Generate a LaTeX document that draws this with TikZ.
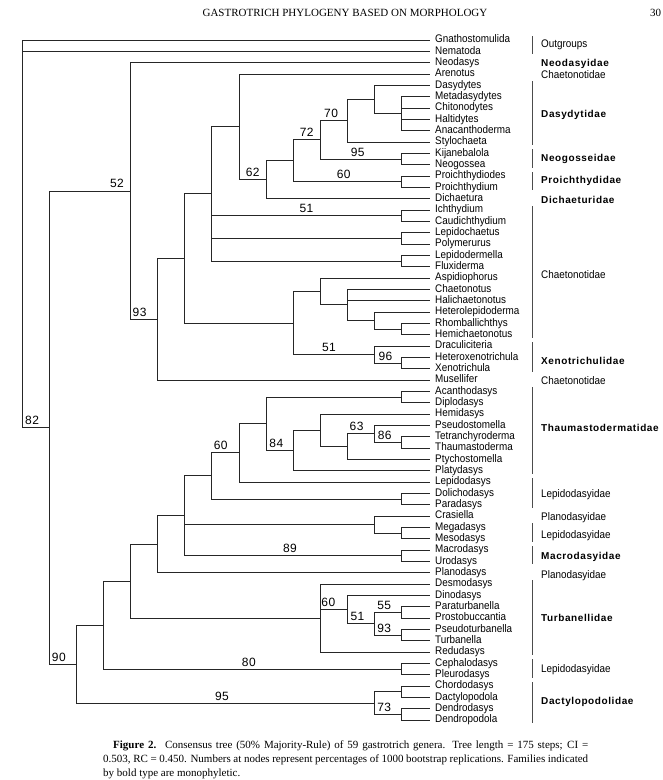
\documentclass[tikz,border=0pt]{standalone}
\usepackage{fontspec}
\setmainfont{Liberation Serif}
\newfontfamily\taxfont[FakeStretch=0.9]{Liberation Sans}
\newfontfamily\famfont[LetterSpace=6]{Liberation Sans}
\newfontfamily\numfont[LetterSpace=4]{Liberation Sans}
\usetikzlibrary{calc}
\newcommand\clade[5]{%
  \coordinate (tmp) at ($(#3)!0.5!(#4)$);
  \coordinate (#1) at (L#2 |- tmp);
  \foreach \c in {#5} {\draw[branch] (#1) |- (\c);}%
}
\begin{document}
\begin{tikzpicture}[x=1pt,y=-1pt,
  declare function={ry(\i)=40+(\i-1)*11.3333;},
  branch/.style={line width=0.9pt, draw=black!85},
  bar/.style={line width=1.2pt, draw=black!70},
  taxon/.style={anchor=west, inner xsep=5pt, inner ysep=0pt, text height=7.8pt, text depth=2.3pt, font=\taxfont\fontsize{11}{11}\selectfont},
  famreg/.style={anchor=west, inner sep=0pt, text height=7.8pt, text depth=2.3pt, font=\taxfont\fontsize{11}{11}\selectfont},
  fambold/.style={anchor=west, inner sep=0pt, text height=7.8pt, text depth=2.3pt, font=\famfont\bfseries\fontsize{10}{10}\selectfont},
  supp/.style={anchor=base, inner sep=0pt, font=\numfont\fontsize{12}{12}\selectfont}]
\fill[white] (0,0) rectangle (663,780);
\useasboundingbox (0,0) rectangle (663,780);

% header
\node[font=\fontsize{11}{13}\selectfont] (hdr) at (345,13) {GASTROTRICH PHYLOGENY BASED ON MORPHOLOGY};
\node[font=\fontsize{11}{13}\selectfont, anchor=west, inner sep=0pt] (pg) at (650,13) {30};

% level x positions
\foreach \k in {0,...,14} \coordinate (L\k) at ({22+27.12*\k},0);

% taxa
\foreach \nm/\lab [count=\i] in {Gna/Gnathostomulida, Nem/Nematoda, Neo/Neodasys, Are/Arenotus, Das/Dasydytes, Met/Metadasydytes, Chi/Chitonodytes, Hal/Haltidytes, Ana/Anacanthoderma, Sty/Stylochaeta, Kij/Kijanebalola, Neg/Neogossea, Prd/Proichthydiodes, Pri/Proichthydium, Dic/Dichaetura, Ich/Ichthydium, Cau/Caudichthydium, Lpc/Lepidochaetus, Pol/Polymerurus, Lpd/Lepidodermella, Flu/Fluxiderma, Asp/Aspidiophorus, Cha/Chaetonotus, Hac/Halichaetonotus, Het/Heterolepidoderma, Rho/Rhomballichthys, Hem/Hemichaetonotus, Dra/Draculiciteria, Hxe/Heteroxenotrichula, Xen/Xenotrichula, Mus/Musellifer, Aca/Acanthodasys, Dip/Diplodasys, Hmd/Hemidasys, Pse/Pseudostomella, Tet/Tetranchyroderma, Tha/Thaumastoderma, Pty/Ptychostomella, Pla/Platydasys, Lep/Lepidodasys, Dol/Dolichodasys, Par/Paradasys, Cra/Crasiella, Meg/Megadasys, Mes/Mesodasys, Mac/Macrodasys, Uro/Urodasys, Pln/Planodasys, Des/Desmodasys, Din/Dinodasys, Ptu/Paraturbanella, Pro/Prostobuccantia, Psu/Pseudoturbanella, Tur/Turbanella, Red/Redudasys, Cep/Cephalodasys, Ple/Pleurodasys, Cho/Chordodasys, Dac/Dactylopodola, Den/Dendrodasys, Dnp/Dendropodola}
  \node[taxon] (\nm) at (430,{ry(\i)}) {\lab};

% tree
\clade{nDasA}{14}{Met}{Ana}{Met,Chi,Hal,Ana}
\clade{nDasB}{13}{Das}{nDasA}{Das,nDasA}
\clade{n70}{12}{nDasB}{Sty}{nDasB,Sty}
\clade{nNeog}{14}{Kij}{Neg}{Kij,Neg}
\clade{n72}{11}{n70}{nNeog}{n70,nNeog}
\clade{nProi}{14}{Prd}{Pri}{Prd,Pri}
\clade{nA}{10}{n72}{nProi}{n72,nProi}
\clade{n62}{9}{nA}{Dic}{nA,Dic}
\clade{nB}{8}{Are}{n62}{Are,n62}
\clade{nIch}{14}{Ich}{Cau}{Ich,Cau}
\clade{nLpc}{14}{Lpc}{Pol}{Lpc,Pol}
\clade{nLpd}{14}{Lpd}{Flu}{Lpd,Flu}
\clade{nC}{7}{nB}{nLpd}{nB,nIch,nLpc,nLpd}
\clade{nRho}{14}{Rho}{Hem}{Rho,Hem}
\clade{nHet}{13}{Het}{nRho}{Het,nRho}
\clade{nCha}{12}{Cha}{nHet}{Cha,Hac,nHet}
\clade{nAsp}{11}{Asp}{nCha}{Asp,nCha}
\clade{nXe}{14}{Hxe}{Xen}{Hxe,Xen}
\clade{nDra}{13}{Dra}{nXe}{Dra,nXe}
\clade{nD}{10}{nAsp}{nDra}{nAsp,nDra}
\clade{nE}{6}{nC}{nD}{nC,nD}
\clade{n93}{5}{nE}{Mus}{nE,Mus}
\clade{n52}{4}{Neo}{n93}{Neo,n93}
\clade{nAca}{14}{Aca}{Dip}{Aca,Dip}
\clade{n86}{14}{Tet}{Tha}{Tet,Tha}
\clade{nPse}{13}{Pse}{n86}{Pse,n86}
\clade{n63}{12}{nPse}{Pty}{nPse,Pty}
\clade{nHmd}{11}{Hmd}{n63}{Hmd,n63}
\clade{n84}{10}{nHmd}{Pla}{nHmd,Pla}
\clade{nF}{9}{nAca}{n84}{nAca,n84}
\clade{n60}{8}{nF}{Lep}{nF,Lep}
\clade{nDol}{14}{Dol}{Par}{Dol,Par}
\clade{nG}{7}{n60}{nDol}{n60,nDol}
\clade{nMeg}{14}{Meg}{Mes}{Meg,Mes}
\clade{nCra}{13}{Cra}{nMeg}{Cra,nMeg}
\clade{nMac}{14}{Mac}{Uro}{Mac,Uro}
\clade{nH}{6}{nG}{nMac}{nG,nCra,nMac}
\clade{nI}{5}{nH}{Pln}{nH,Pln}
\clade{n55}{14}{Ptu}{Pro}{Ptu,Pro}
\clade{n93t}{14}{Psu}{Tur}{Psu,Tur}
\clade{n51t}{13}{n55}{n93t}{n55,n93t}
\clade{nDin}{12}{Din}{n51t}{Din,n51t}
\clade{n60t}{11}{Des}{Red}{Des,nDin,Red}
\clade{nJ}{4}{nI}{n60t}{nI,n60t}
\clade{nCep}{14}{Cep}{Ple}{Cep,Ple}
\clade{nK}{3}{nJ}{nCep}{nJ,nCep}
\clade{nCho}{14}{Cho}{Dac}{Cho,Dac}
\clade{n73}{14}{Den}{Dnp}{Den,Dnp}
\clade{nDac}{13}{nCho}{n73}{nCho,n73}
\clade{n90}{2}{nK}{nDac}{nK,nDac}
\clade{n82}{1}{n52}{n90}{n52,n90}
\clade{root}{0}{Gna}{n82}{Gna,Nem,n82}

% support values
\node[supp] (s82) at ($(n82)+(-17,-3)$) {82};
\node[supp] (s52) at ($(n52)+(-13.5,-3)$) {52};
\node[supp] (s93) at ($(n93)+(-18,-3)$) {93};
\node[supp] (s90) at ($(n90)+(-17.4,-3)$) {90};
\node[supp] (s62) at ($(n62)+(-13.4,-3)$) {62};
\node[supp] (s72) at ($(n72)+(-13.6,-3)$) {72};
\node[supp] (s70) at ($(n70)+(-16.4,-3)$) {70};
\node[supp] (s95a) at ($(nNeog)+(-44,-3)$) {95};
\node[supp] (s60a) at ($(nProi)+(-58,-3)$) {60};
\node[supp] (s51a) at ($(nIch)+(-95.2,-3)$) {51};
\node[supp] (s51b) at ($(nDra)+(-45.6,-3)$) {51};
\node[supp] (s96) at ($(nXe)+(-16.2,-3)$) {96};
\node[supp] (s60b) at ($(n60)+(-18.2,-3)$) {60};
\node[supp] (s84) at ($(n84)+(-16.9,-3)$) {84};
\node[supp] (s63) at ($(nPse)+(-17.9,-3)$) {63};
\node[supp] (s86) at ($(n86)+(-17,-3)$) {86};
\node[supp] (s89) at ($(nMac)+(-111.7,-3)$) {89};
\node[supp] (s60c) at ($(nDin)+(-19.1,-3)$) {60};
\node[supp] (s51c) at ($(n51t)+(-17.1,-3)$) {51};
\node[supp] (s55) at ($(n55)+(-17.5,-3)$) {55};
\node[supp] (s93b) at ($(n93t)+(-17.5,-3)$) {93};
\node[supp] (s80) at ($(nCep)+(-152.9,-3)$) {80};
\node[supp] (s95b) at ($(nDac)+(-152.6,-3)$) {95};
\node[supp] (s73) at ($(n73)+(-17.5,-3)$) {73};

% family bars
\foreach \a/\b in {1/2,5/10,11/12,13/14,16/27,28/30,32/39,40/42,44/45,46/47,49/55,56/57,58/61}
  \draw[bar] (532.7,{ry(\a)-4}) -- (532.7,{ry(\b)+3});

% family labels
\node[famreg]  (f1)  at (541,45)    {Outgroups};
\node[fambold] (f2)  at (541,63.5)  {Neodasyidae};
\node[famreg]  (f3)  at (541,75.5)  {Chaetonotidae};
\node[fambold] (f4)  at (541,114.5) {Dasydytidae};
\node[fambold] (f5)  at (541,159)   {Neogosseidae};
\node[fambold] (f6)  at (541,181)   {Proichthydidae};
\node[fambold] (f7)  at (541,200.5) {Dichaeturidae};
\node[famreg]  (f8)  at (541,276)   {Chaetonotidae};
\node[fambold] (f9)  at (541,361.5) {Xenotrichulidae};
\node[famreg]  (f10) at (541,381.5) {Chaetonotidae};
\node[fambold] (f11) at (541,429)   {Thaumastodermatidae};
\node[famreg]  (f12) at (541,495)   {Lepidodasyidae};
\node[famreg]  (f13) at (541,517.5) {Planodasyidae};
\node[famreg]  (f14) at (541,535.5) {Lepidodasyidae};
\node[fambold] (f15) at (541,557)   {Macrodasyidae};
\node[famreg]  (f16) at (541,576)   {Planodasyidae};
\node[fambold] (f17) at (541,618.5) {Turbanellidae};
\node[famreg]  (f18) at (541,670)   {Lepidodasyidae};
\node[fambold] (f19) at (541,702)   {Dactylopodolidae};

% caption
\node[anchor=north west, inner sep=0pt, text width=485pt, align=justify, font=\fontsize{11}{14}\selectfont] (cap) at (103,741)
  {\hspace*{10pt}\textbf{Figure 2.}\hspace{0.8em}Consensus tree (50\% Majority-Rule) of 59 gastrotrich genera. Tree length = 175 steps; CI =\linebreak 0.503, RC = 0.450. Numbers at nodes represent percentages of 1000 bootstrap replications. Families indicated\linebreak by bold type are monophyletic.};
\end{tikzpicture}
\end{document}
